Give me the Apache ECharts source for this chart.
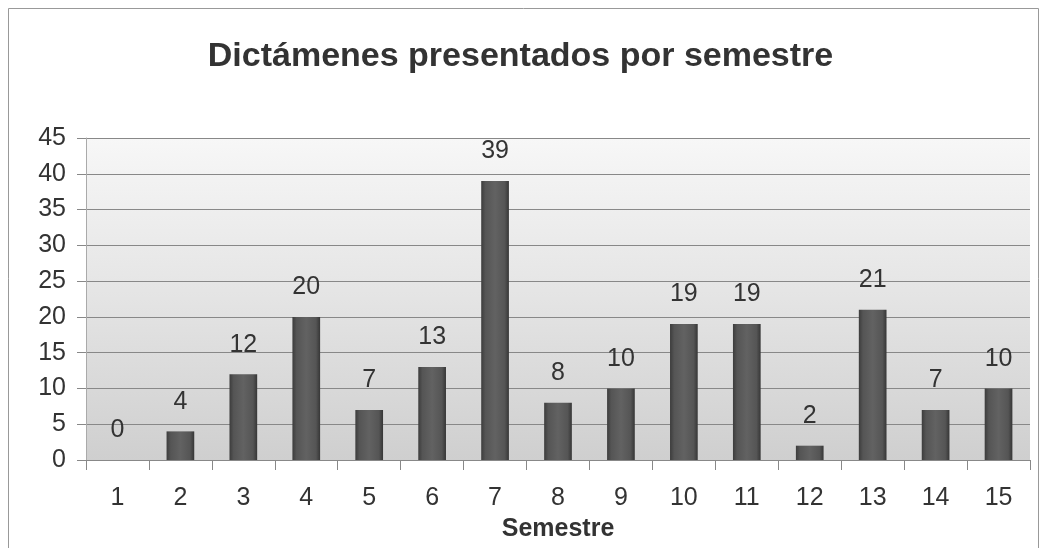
<!DOCTYPE html>
<html>
<head>
<meta charset="utf-8">
<script src="https://cdn.jsdelivr.net/npm/echarts@6/dist/echarts.min.js"></script>
<style>
  html, body { margin: 0; padding: 0; background: #fff; }
  #chart { width: 1041px; height: 548px; }
</style>
</head>
<body>
<div id="chart"></div>
<script>
const semestres = ['1', '2', '3', '4', '5', '6', '7', '8', '9', '10', '11', '12', '13', '14', '15'];
const dictamenes = [0, 4, 12, 20, 7, 13, 39, 8, 10, 19, 19, 2, 21, 7, 10];

const chart = echarts.init(document.getElementById('chart'), null, { renderer: 'canvas' });

const textColor = '#333';
const fontFamily = '"Liberation Sans", Arial, sans-serif';

chart.setOption({
  animation: false,
  backgroundColor: '#fff',
  graphic: [{
    type: 'rect',
    shape: { x: 8.5, y: 8.5, width: 1030, height: 560 },
    style: { fill: 'transparent', stroke: '#999', lineWidth: 1 },
    silent: true
  }],
  title: {
    text: 'Dictámenes presentados por semestre',
    left: 'center',
    top: 35,
    textStyle: { fontFamily, fontSize: 34, fontWeight: 'bold', color: textColor }
  },
  grid: {
    left: 86, right: 11, top: 138, bottom: 88,
    show: true,
    borderWidth: 0,
    backgroundColor: new echarts.graphic.LinearGradient(0, 0, 0, 1, [
      { offset: 0, color: '#f7f7f7' },
      { offset: 0.5, color: '#e4e4e4' },
      { offset: 1, color: '#cfcfcf' }
    ])
  },
  xAxis: {
    type: 'category',
    data: semestres,
    name: 'Semestre',
    nameLocation: 'middle',
    nameGap: 57,
    nameTextStyle: { fontFamily, fontSize: 25, fontWeight: 'bold', color: textColor },
    axisLine: { lineStyle: { color: '#888', width: 1 } },
    axisTick: { show: true, alignWithLabel: false, length: 10, lineStyle: { color: '#888' } },
    axisLabel: { fontFamily, fontSize: 25, color: textColor, margin: 26 },
    splitLine: { show: false }
  },
  yAxis: {
    type: 'value',
    min: 0, max: 45, interval: 5,
    axisLine: { show: true, lineStyle: { color: '#aaa', width: 1 } },
    axisTick: { show: true, length: 9, lineStyle: { color: '#888' } },
    axisLabel: { fontFamily, fontSize: 25, color: textColor, margin: 20 },
    splitLine: { show: true, lineStyle: { color: '#888', width: 1 } }
  },
  series: [{
    type: 'bar',
    data: dictamenes,
    barWidth: '44%',
    itemStyle: {
      color: new echarts.graphic.LinearGradient(0, 0, 1, 0, [
        { offset: 0, color: '#3c3c3c' },
        { offset: 0.15, color: '#555' },
        { offset: 0.5, color: '#626262' },
        { offset: 0.85, color: '#555' },
        { offset: 1, color: '#363636' }
      ])
    },
    label: {
      show: true,
      position: 'top',
      distance: 17,
      fontFamily, fontSize: 25, color: textColor
    }
  }]
});
</script>
</body>
</html>
